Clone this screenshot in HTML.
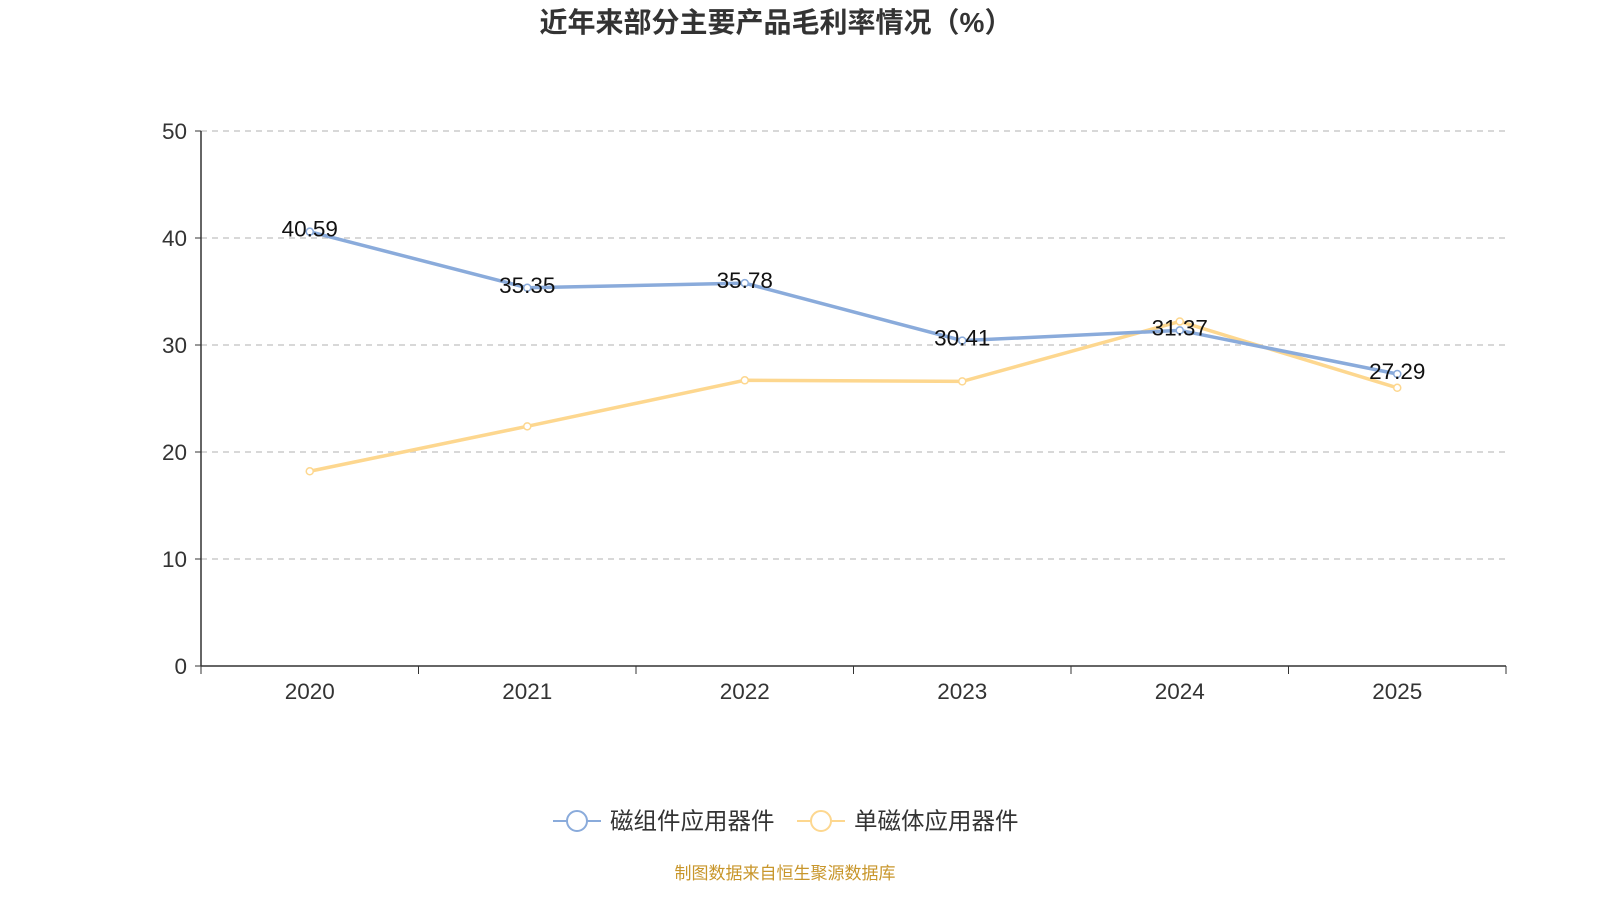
<!DOCTYPE html>
<html><head><meta charset="utf-8"><style>
body{margin:0;background:#fff;}
svg text{font-family:"Liberation Sans","Noto Sans CJK SC",sans-serif;}
</style></head><body>
<svg id="chart" width="1600" height="900" xmlns="http://www.w3.org/2000/svg">
<text x="776" y="32" text-anchor="middle" font-size="28" font-weight="bold" fill="#333">近年来部分主要产品毛利率情况（%）</text>
<g id="grid"></g><g id="axes"></g><g id="series"></g>
<g>
<line x1="553" y1="821" x2="601" y2="821" stroke="#8aabdb" stroke-width="2"/>
<circle cx="577" cy="821" r="10" fill="#fff" stroke="#8aabdb" stroke-width="2"/>
<text x="610" y="829" font-size="23.5" fill="#333">磁组件应用器件</text>
<line x1="797" y1="821" x2="845" y2="821" stroke="#fdd78f" stroke-width="2"/>
<circle cx="821" cy="821" r="10" fill="#fff" stroke="#fdd78f" stroke-width="2"/>
<text x="854" y="829" font-size="23.5" fill="#333">单磁体应用器件</text>
</g>
<text x="785" y="879" text-anchor="middle" font-size="17" fill="#c8962b">制图数据来自恒生聚源数据库</text>
</svg>
<script>
const categories=["2020","2021","2022","2023","2024","2025"];
const seriesA=[40.59,35.35,35.78,30.41,31.37,27.29];
const seriesB=[18.2,22.4,26.7,26.6,32.2,26.0];
const yTicks=[0,10,20,30,40,50];
const NS="http://www.w3.org/2000/svg";
const x0=201,x1=1506,y0=666,y1=131,ymax=50;
const bw=(x1-x0)/categories.length;
const X=i=>x0+bw*(i+0.5);
const Y=v=>y0-(v/ymax)*(y0-y1);
function mk(tag,attrs,parent){const e=document.createElementNS(NS,tag);for(const k in attrs)e.setAttribute(k,attrs[k]);document.getElementById(parent).appendChild(e);return e;}
yTicks.forEach(t=>{
  if(t>0){const g=mk('line',{x1:x0,x2:x1,y1:Y(t),y2:Y(t),stroke:'#ccc','stroke-dasharray':'6,5','stroke-width':1.5},'grid');
  
  }
  mk('line',{x1:x0-6,x2:x0,y1:Y(t),y2:Y(t),stroke:'#333'},'axes');
  const l=mk('text',{x:x0-14,y:Y(t)+8,'text-anchor':'end','font-size':22.5,fill:'#333'},'axes');l.textContent=t;
  
  
});
const ya=mk('line',{x1:x0,x2:x0,y1:y1,y2:y0,stroke:'#333','stroke-width':1.5},'axes');


const xa=mk('line',{x1:x0,x2:x1,y1:y0,y2:y0,stroke:'#333','stroke-width':1.5},'axes');


for(let i=0;i<=categories.length;i++)mk('line',{x1:x0+bw*i,x2:x0+bw*i,y1:y0,y2:y0+8,stroke:'#333'},'axes');
categories.forEach((c,i)=>{const l=mk('text',{x:X(i),y:699,'text-anchor':'middle','font-size':22.5,fill:'#333'},'axes');l.textContent=c;
  
  });
function draw(data,color,name,labels){
  const p=mk('polyline',{points:data.map((v,i)=>X(i)+','+Y(v)).join(' '),fill:'none',stroke:color,'stroke-width':3.5},'series');
  
  
  data.forEach((v,i)=>{const c=mk('circle',{cx:X(i),cy:Y(v),r:3.5,fill:'#fff',stroke:color,'stroke-width':1.5},'series');
    
    
    if(labels){const t=mk('text',{x:X(i),y:Y(v)+5,'text-anchor':'middle','font-size':22.5,fill:'#111'},'series');t.textContent=v.toFixed(2);
      
      }});
}
draw(seriesB,'#fdd78f','single-magnetic',false);
draw(seriesA,'#8aabdb','magnetic-component',true);
</script>
</body></html>
